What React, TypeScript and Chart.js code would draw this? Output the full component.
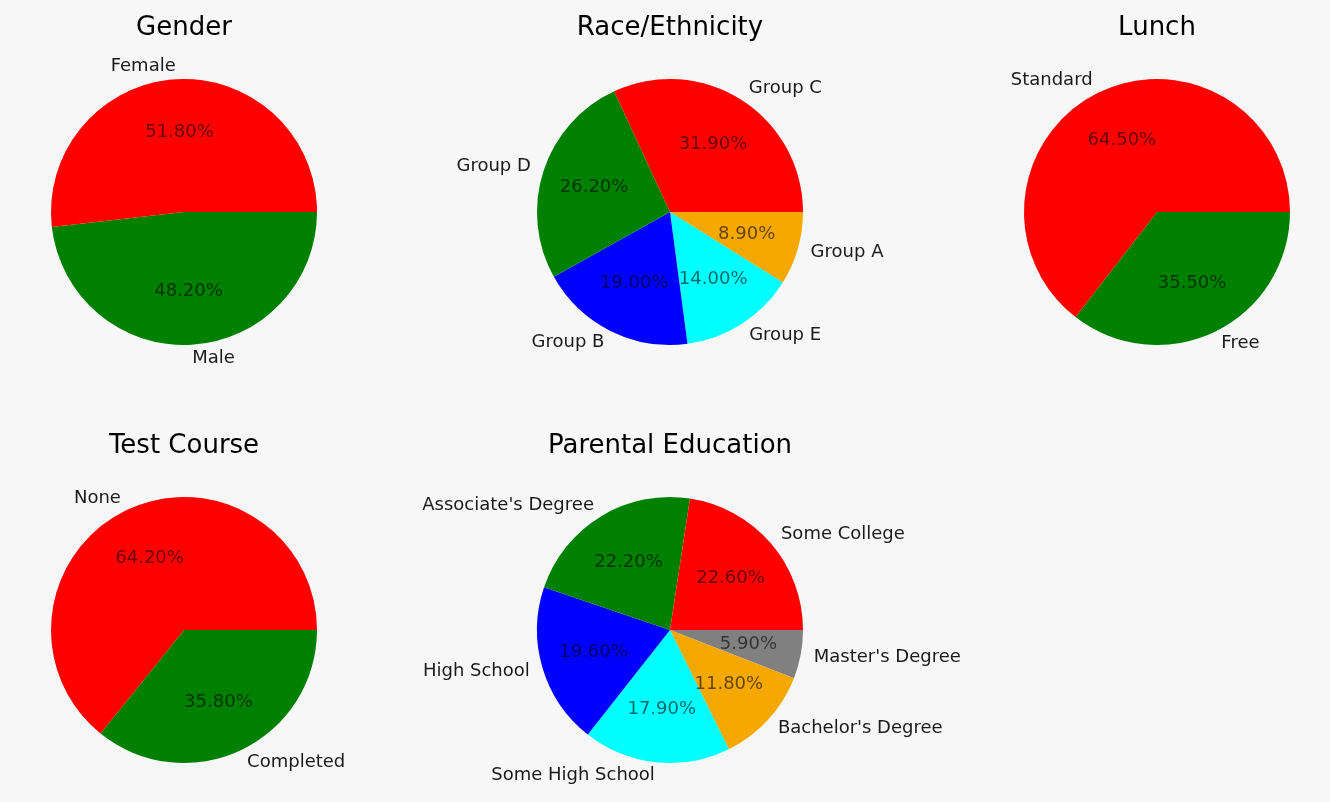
import React, { useEffect, useRef } from "react";
import { Chart, registerables } from "chart.js";

Chart.register(...registerables);

// ---- Data ----
const genderLabels = ["Female", "Male"];
const genderValues = [518, 482];

const raceLabels = ["Group C", "Group D", "Group B", "Group E", "Group A"];
const raceValues = [319, 262, 190, 140, 89];

const lunchLabels = ["Standard", "Free"];
const lunchValues = [645, 355];

const testLabels = ["None", "Completed"];
const testValues = [642, 358];

const eduLabels = [
  "Some College",
  "Associate's Degree",
  "High School",
  "Some High School",
  "Bachelor's Degree",
  "Master's Degree",
];
const eduValues = [226, 222, 196, 179, 118, 59];

const sliceColors = ["#ff0000", "#008000", "#0000ff", "#00ffff", "#f5a800", "#808080"];

const FONT = '"DejaVu Sans", sans-serif';
const CANVAS_W = 600;
const CANVAS_H = 400;
const RADIUS = 133;

const pieTextPlugin = {
  id: "pieText",
  afterDatasetsDraw(chart: any, _args: any, opts: any) {
    const ctx = chart.ctx;
    const meta = chart.getDatasetMeta(0);
    const data: number[] = chart.data.datasets[0].data;
    const labels: string[] = chart.data.labels;
    const total = data.reduce((a, b) => a + b, 0);
    ctx.save();
    let cx = 0;
    let cy = 0;
    let rr = RADIUS;
    meta.data.forEach((arc: any, i: number) => {
      const p = arc.getProps(["x", "y", "startAngle", "endAngle", "outerRadius"], true);
      cx = p.x;
      cy = p.y;
      rr = p.outerRadius;
      const mid = (p.startAngle + p.endAngle) / 2;
      const c = Math.cos(mid);
      const s = Math.sin(mid);
      ctx.font = `18px ${FONT}`;
      ctx.fillStyle = "#1a1a1a";
      ctx.textBaseline = "middle";
      ctx.textAlign = c < 0 ? "right" : "left";
      ctx.fillText(labels[i], p.x + c * 1.1 * rr, p.y + s * 1.1 * rr);
      ctx.textAlign = "center";
      ctx.fillStyle = "rgba(0,0,0,0.6)";
      const pct = ((data[i] / total) * 100).toFixed(2) + "%";
      ctx.fillText(pct, p.x + c * 0.6 * rr, p.y + s * 0.6 * rr);
    });
    ctx.font = `26px ${FONT}`;
    ctx.fillStyle = "#000";
    ctx.textAlign = "center";
    ctx.textBaseline = "middle";
    ctx.fillText(opts.title, cx, cy - rr * 1.384);
    ctx.restore();
  },
};

function PieChart(props: { title: string; labels: string[]; values: number[]; cx: number; cy: number }) {
  const ref = useRef<HTMLCanvasElement | null>(null);
  useEffect(() => {
    if (!ref.current) return;
    // matplotlib draws counter-clockwise from 3 o'clock; Chart.js draws clockwise,
    // so reverse the order and start at 3 o'clock.
    const labels = [...props.labels].reverse();
    const values = [...props.values].reverse();
    const colors = sliceColors.slice(0, props.values.length).reverse();
    const padX = (CANVAS_W - 2 * RADIUS) / 2;
    const padY = (CANVAS_H - 2 * RADIUS) / 2;
    const chart = new Chart(ref.current, {
      type: "pie",
      data: {
        labels,
        datasets: [
          {
            data: values,
            backgroundColor: colors,
            borderWidth: 0,
          },
        ],
      },
      options: {
        animation: false,
        responsive: false,
        rotation: 90,
        layout: { padding: { left: padX, right: padX, top: padY, bottom: padY } },
        plugins: {
          legend: { display: false },
          tooltip: { enabled: false },
          pieText: { title: props.title },
        } as any,
      },
      plugins: [pieTextPlugin as any],
    });
    return () => chart.destroy();
  }, []);
  return (
    <canvas
      ref={ref}
      width={CANVAS_W}
      height={CANVAS_H}
      style={{
        position: "absolute",
        left: props.cx - CANVAS_W / 2,
        top: props.cy - CANVAS_H / 2,
        width: CANVAS_W,
        height: CANVAS_H,
      }}
    />
  );
}

export default function App() {
  return (
    <div
      style={{
        position: "fixed",
        left: 0,
        top: 0,
        width: 1330,
        height: 802,
        overflow: "hidden",
        background: "#f7f7f7",
      }}
    >
      <PieChart title="Gender" labels={genderLabels} values={genderValues} cx={184} cy={212} />
      <PieChart title="Race/Ethnicity" labels={raceLabels} values={raceValues} cx={670} cy={212} />
      <PieChart title="Lunch" labels={lunchLabels} values={lunchValues} cx={1157} cy={212} />
      <PieChart title="Test Course" labels={testLabels} values={testValues} cx={184} cy={630} />
      <PieChart title="Parental Education" labels={eduLabels} values={eduValues} cx={670} cy={630} />
    </div>
  );
}
